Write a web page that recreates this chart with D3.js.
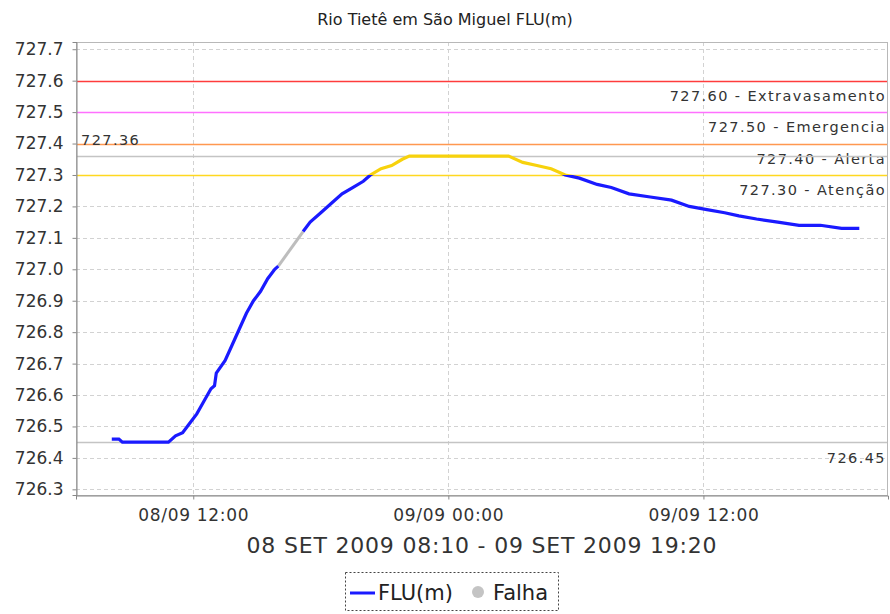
<!DOCTYPE html>
<html>
<head>
<meta charset="utf-8">
<script src="https://cdn.jsdelivr.net/npm/d3@7"></script>
<style>
  html, body { margin: 0; background: #fff; }
  svg { display: block; font-family: "DejaVu Sans", sans-serif; }
</style>
</head>
<body>
<svg id="chart" width="890" height="614"></svg>
<script>
const chartTitle = 'Rio Tietê em São Miguel FLU(m)';
const periodLabel = '08 SET 2009 08:10 - 09 SET 2009 19:20';
const seriesName = 'FLU(m)';
const failureName = 'Falha';

// Readings (m). null = no reading (falha)
const times = [
  '2009-09-08 08:10', '2009-09-08 08:30', '2009-09-08 08:40', '2009-09-08 09:30', '2009-09-08 10:30',
  '2009-09-08 10:50', '2009-09-08 11:10', '2009-09-08 11:30', '2009-09-08 11:50', '2009-09-08 12:10',
  '2009-09-08 12:30', '2009-09-08 12:50', '2009-09-08 13:00', '2009-09-08 13:05', '2009-09-08 13:30',
  '2009-09-08 13:50', '2009-09-08 14:10', '2009-09-08 14:30', '2009-09-08 14:50', '2009-09-08 15:10',
  '2009-09-08 15:30', '2009-09-08 15:50', '2009-09-08 16:00', '2009-09-08 16:30', '2009-09-08 17:10',
  '2009-09-08 17:30', '2009-09-08 18:00', '2009-09-08 18:30', '2009-09-08 19:00', '2009-09-08 19:30',
  '2009-09-08 20:00', '2009-09-08 20:20', '2009-09-08 20:50', '2009-09-08 21:20', '2009-09-08 21:50',
  '2009-09-08 22:10', '2009-09-08 23:00', '2009-09-09 00:00', '2009-09-09 01:00', '2009-09-09 02:00',
  '2009-09-09 02:50', '2009-09-09 03:30', '2009-09-09 04:10', '2009-09-09 04:50', '2009-09-09 05:30',
  '2009-09-09 06:10', '2009-09-09 07:00', '2009-09-09 07:40', '2009-09-09 08:30', '2009-09-09 09:30',
  '2009-09-09 10:30', '2009-09-09 11:20', '2009-09-09 12:10', '2009-09-09 13:00', '2009-09-09 13:40',
  '2009-09-09 14:30', '2009-09-09 15:30', '2009-09-09 16:30', '2009-09-09 17:30', '2009-09-09 18:30',
  '2009-09-09 19:20'
];
const levels = [
  726.46, 726.46, 726.45, 726.45, 726.45,
  726.45, 726.47, 726.48, 726.51, 726.54,
  726.58, 726.62, 726.63, 726.67, 726.71,
  726.76, 726.81, 726.86, 726.90, 726.93,
  726.97, 727.00, 727.01, null, 727.12,
  727.15, 727.18, 727.21, 727.24, 727.26,
  727.28, 727.30, 727.32, 727.33, 727.35,
  727.36, 727.36, 727.36, 727.36, 727.36,
  727.36, 727.34, 727.33, 727.32, 727.30,
  727.29, 727.27, 727.26, 727.24, 727.23,
  727.22, 727.20, 727.19, 727.18, 727.17,
  727.16, 727.15, 727.14, 727.14, 727.13,
  727.13
];

// Alarm levels
const thresholdValues = [727.60, 727.50, 727.40, 727.30];
const thresholdNames = ['Extravasamento', 'Emergencia', 'Alerta', 'Atenção'];
const thresholdColors = ['#ff3c3c', '#ff70ff', '#ff9850', '#ffd820'];

const yTicks = [726.3, 726.4, 726.5, 726.6, 726.7, 726.8, 726.9, 727.0, 727.1, 727.2, 727.3, 727.4, 727.5, 727.6, 727.7];
const xTicks = ['2009-09-08 12:00', '2009-09-09 00:00', '2009-09-09 12:00'];
const xDomain = ['2009-09-08 06:29', '2009-09-09 20:41'];
const yDomain = [726.282, 727.723];

const parseTime = d3.timeParse('%Y-%m-%d %H:%M');
const data = times.map((t, i) => ({ t: parseTime(t), v: levels[i] }));

const W = 890, H = 614;
const margin = { top: 42, right: 2, bottom: 119, left: 76 };
const plotW = W - margin.left - margin.right;
const plotH = H - margin.top - margin.bottom;

const svg = d3.select('#chart');

const x = d3.scaleTime().domain(xDomain.map(parseTime)).range([margin.left, margin.left + plotW]);
const y = d3.scaleLinear().domain(yDomain).range([margin.top + plotH, margin.top]);

// Title
svg.append('text')
  .attr('x', W / 2).attr('y', 25)
  .attr('text-anchor', 'middle')
  .attr('font-size', 16)
  .attr('fill', '#222')
  .text(chartTitle);

// Grid
const grid = svg.append('g').attr('stroke', '#d2d2d2').attr('stroke-dasharray', '4,3').attr('stroke-width', 1);
grid.selectAll('line.h').data(yTicks).join('line')
  .attr('x1', margin.left).attr('x2', margin.left + plotW)
  .attr('y1', d => Math.round(y(d)) + 0.5).attr('y2', d => Math.round(y(d)) + 0.5);
grid.selectAll('line.v').data(xTicks.map(parseTime)).join('line')
  .attr('y1', margin.top).attr('y2', margin.top + plotH)
  .attr('x1', d => Math.round(x(d)) + 0.5).attr('x2', d => Math.round(x(d)) + 0.5);

// Plot outline
svg.append('rect')
  .attr('x', margin.left + 0.5).attr('y', margin.top + 0.5)
  .attr('width', plotW - 1).attr('height', plotH)
  .attr('fill', 'none').attr('stroke', '#b8b8b8');

// Threshold lines and labels
const hline = (v, color) => svg.append('line')
  .attr('x1', margin.left + 1).attr('x2', margin.left + plotW - 1)
  .attr('y1', Math.round(y(v)) + 0.5).attr('y2', Math.round(y(v)) + 0.5)
  .attr('stroke', color).attr('stroke-width', 1.3);

const labelStyle = sel => sel.attr('font-size', 14.5).attr('letter-spacing', 1.4).attr('fill', '#333');

thresholdValues.forEach((v, i) => {
  hline(v, thresholdColors[i]);
  svg.append('text')
    .attr('x', margin.left + plotW - 2).attr('y', y(v) + 20)
    .attr('text-anchor', 'end')
    .call(labelStyle)
    .text(`${v.toFixed(2)} - ${thresholdNames[i]}`);
});

const maxLevel = d3.max(levels);
const minLevel = d3.min(levels);
hline(maxLevel, '#c4c4c4');
hline(minLevel, '#c4c4c4');
svg.append('text')
  .attr('x', margin.left + 5).attr('y', y(maxLevel) - 11)
  .call(labelStyle)
  .text(maxLevel.toFixed(2));
svg.append('text')
  .attr('x', margin.left + plotW - 2).attr('y', y(minLevel) + 21)
  .attr('text-anchor', 'end')
  .call(labelStyle)
  .text(minLevel.toFixed(2));

// Series: blue below 727.30, yellow at/above, gray across failures
const cut = y(thresholdValues[3]);
const defs = svg.append('defs');
defs.append('clipPath').attr('id', 'below')
  .append('rect').attr('x', margin.left).attr('y', cut).attr('width', plotW).attr('height', margin.top + plotH - cut);
defs.append('clipPath').attr('id', 'above')
  .append('rect').attr('x', margin.left).attr('y', margin.top).attr('width', plotW).attr('height', cut - margin.top);

const line = d3.line().defined(d => d.v != null).x(d => x(d.t)).y(d => y(d.v));

// failure gaps: connect the last reading before each gap to the first after
const gaps = [];
data.forEach((d, i) => {
  if (d.v == null && data[i - 1] && data[i - 1].v != null) {
    let j = i;
    while (j < data.length && data[j].v == null) j++;
    if (j < data.length) gaps.push([data[i - 1], data[j]]);
  }
});
svg.selectAll('path.falha').data(gaps).join('path')
  .attr('d', line)
  .attr('fill', 'none').attr('stroke', '#bdbdbd').attr('stroke-width', 3);

[['below', '#1a1aff'], ['above', '#f7d20c']].forEach(([clip, color]) => {
  svg.append('path')
    .datum(data)
    .attr('clip-path', `url(#${clip})`)
    .attr('d', line)
    .attr('fill', 'none')
    .attr('stroke', color)
    .attr('stroke-width', 3.2)
    .attr('stroke-linejoin', 'miter');
});

// Axes
const yAxis = d3.axisLeft(y).tickValues(yTicks).tickFormat(d3.format('.1f')).tickSize(4).tickPadding(9);
const gy = svg.append('g').attr('transform', `translate(${margin.left + 0.5},0)`).call(yAxis);
gy.select('.domain').attr('stroke', '#888');
gy.selectAll('.tick line').attr('stroke', '#888');
gy.selectAll('.tick text').attr('font-size', 17).attr('fill', '#333').attr('font-family', '"DejaVu Sans", sans-serif');

const xAxis = d3.axisBottom(x).tickValues(xTicks.map(parseTime)).tickFormat(d3.timeFormat('%d/%m %H:%M')).tickSize(4).tickPadding(9);
const gx = svg.append('g').attr('transform', `translate(0,${margin.top + plotH + 0.5})`).call(xAxis);
gx.select('.domain').attr('stroke', '#888');
gx.selectAll('.tick line').attr('stroke', '#888');
gx.selectAll('.tick text').attr('font-size', 17).attr('letter-spacing', 0.7).attr('fill', '#333').attr('font-family', '"DejaVu Sans", sans-serif');

svg.append('text')
  .attr('x', margin.left + plotW / 2).attr('y', 553)
  .attr('text-anchor', 'middle')
  .attr('font-size', 22)
  .attr('letter-spacing', 0.8)
  .attr('fill', '#333')
  .text(periodLabel);

// Legend
const legend = svg.append('g').attr('transform', 'translate(345,572)');
legend.append('rect')
  .attr('x', 0.5).attr('y', 0.5).attr('width', 213).attr('height', 38)
  .attr('fill', 'none').attr('stroke', '#444').attr('stroke-dasharray', '2,2');
legend.append('line')
  .attr('x1', 5).attr('x2', 30).attr('y1', 21).attr('y2', 21)
  .attr('stroke', '#1a1aff').attr('stroke-width', 3);
legend.append('text').attr('x', 33).attr('y', 28).attr('font-size', 21).attr('fill', '#222').text(seriesName);
legend.append('circle').attr('cx', 133).attr('cy', 20).attr('r', 6).attr('fill', '#c4c4c4');
legend.append('text').attr('x', 148).attr('y', 28).attr('font-size', 21).attr('fill', '#222').text(failureName);
</script>
</body>
</html>
